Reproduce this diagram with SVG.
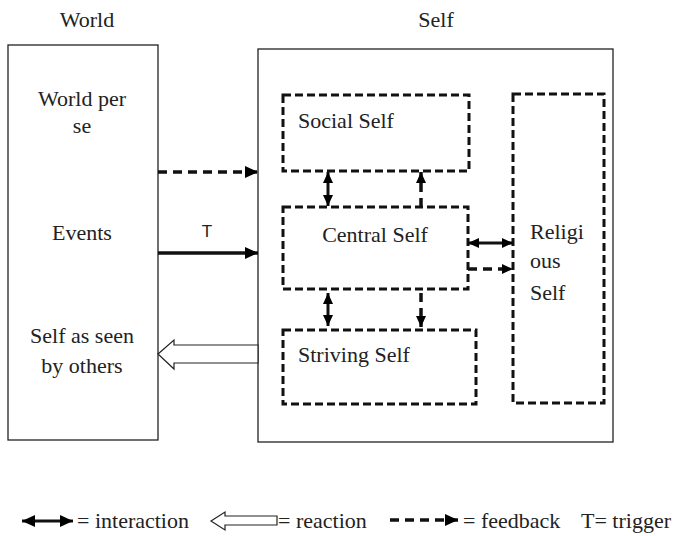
<svg xmlns="http://www.w3.org/2000/svg" width="679" height="536" viewBox="0 0 679 536">
<defs>
<marker id="ah" markerUnits="userSpaceOnUse" markerWidth="14" markerHeight="12" refX="13" refY="6" orient="auto-start-reverse"><path d="M0,0 L13,6 L0,12 Z" fill="#000"/></marker>
<marker id="ahs" markerUnits="userSpaceOnUse" markerWidth="12" markerHeight="10" refX="11" refY="5" orient="auto-start-reverse"><path d="M0,0 L11,5 L0,10 Z" fill="#000"/></marker>
</defs>
<style>
text{font-family:"Liberation Serif","Times New Roman",serif;font-size:22px;fill:#222}
.sans{font-family:"Liberation Sans",Arial,sans-serif;font-size:17px}
.box{fill:none;stroke:#222;stroke-width:1.3}
.dbox{fill:none;stroke:#111;stroke-width:3;stroke-dasharray:8 4}
.inter{stroke:#111;stroke-width:3;fill:none}
.fb{stroke:#111;stroke-width:3.5;stroke-dasharray:9 6;fill:none}
.trig{stroke:#111;stroke-width:3.5;fill:none}
.react{fill:#fff;stroke:#222;stroke-width:1.2}
</style>
<text x="87" y="27" text-anchor="middle">World</text>
<text x="436" y="27" text-anchor="middle">Self</text>
<g id="world">
<rect class="box" x="8" y="45" width="150" height="395"/>
<text x="82" y="106" text-anchor="middle">World per</text>
<text x="82" y="133" text-anchor="middle">se</text>
<text x="82" y="240" text-anchor="middle">Events</text>
<text x="82" y="343" text-anchor="middle">Self as seen</text>
<text x="82" y="373" text-anchor="middle">by others</text>
</g>
<g id="self">
<rect class="box" x="258" y="49" width="355" height="393"/>
</g>
<g id="social">
<rect class="dbox" x="283" y="95" width="186" height="76"/>
<text x="298" y="128">Social Self</text>
</g>
<g id="central">
<rect class="dbox" x="283" y="207" width="185" height="82"/>
<text x="375" y="242" text-anchor="middle">Central Self</text>
</g>
<g id="striving">
<rect class="dbox" x="283" y="330" width="193" height="74"/>
<text x="298" y="362">Striving Self</text>
</g>
<g id="religious">
<rect class="dbox" x="513" y="94" width="91" height="309"/>
<text x="530" y="239">Religi</text>
<text x="530" y="268">ous</text>
<text x="530" y="300">Self</text>
</g>
<g id="connectors">
<line class="fb" x1="158" y1="172" x2="258" y2="172" marker-end="url(#ah)"/>
<line class="trig" x1="158" y1="253" x2="258" y2="253" marker-end="url(#ah)"/>
<text class="sans" x="207" y="237" text-anchor="middle">T</text>
<polygon class="react" points="158,354 174,340 174,345 258,345 258,363 174,363 174,369"/>
<line class="inter" x1="328" y1="172" x2="328" y2="206" marker-start="url(#ahs)" marker-end="url(#ahs)"/>
<line class="fb" x1="421" y1="207" x2="421" y2="172" stroke-width="2.5" stroke-dasharray="7 5" marker-end="url(#ahs)"/>
<line class="inter" x1="328" y1="293" x2="328" y2="326" marker-start="url(#ahs)" marker-end="url(#ahs)"/>
<line class="fb" x1="421" y1="293" x2="421" y2="327" stroke-width="2.5" stroke-dasharray="7 5" marker-end="url(#ahs)"/>
<line class="inter" x1="468" y1="243" x2="513" y2="243" marker-start="url(#ahs)" marker-end="url(#ahs)"/>
<line class="fb" x1="468" y1="269" x2="513" y2="269" stroke-width="2.5" stroke-dasharray="7 5" marker-end="url(#ahs)"/>
</g>
<g id="legend">
<line class="inter" x1="22" y1="521" x2="73" y2="521" stroke-width="3.5" marker-start="url(#ah)" marker-end="url(#ah)"/>
<text x="77" y="528">= interaction</text>
<polygon class="react" points="211,521 225,512 225,516 277,516 277,525 225,525 225,530"/>
<text x="278" y="528">= reaction</text>
<line class="fb" x1="390" y1="520" x2="458" y2="520" stroke-width="4" stroke-dasharray="9 5" marker-end="url(#ah)"/>
<text x="463" y="528">= feedback</text>
<text x="581" y="528">T= trigger</text>
</g>
</svg>
